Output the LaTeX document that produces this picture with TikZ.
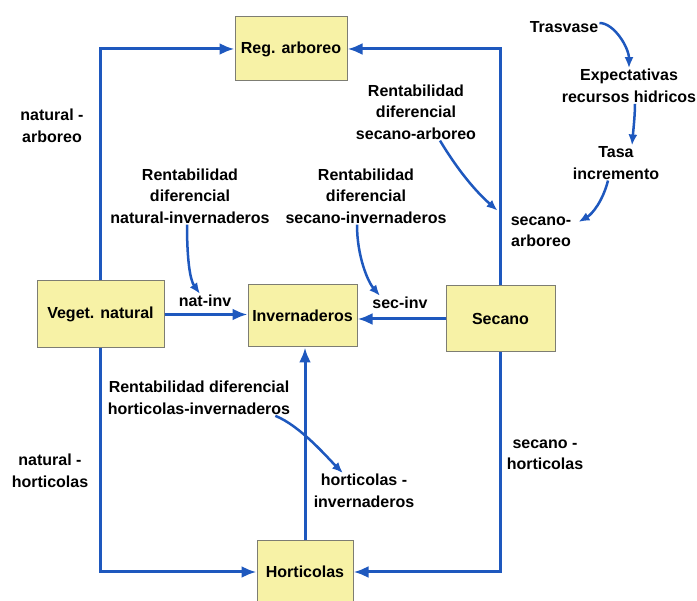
\documentclass[tikz,border=0pt]{standalone}
\usepackage{fontspec}
\setmainfont{Liberation Sans}
\usetikzlibrary{arrows.meta}
\definecolor{boxfill}{RGB}{247,242,166}
\definecolor{boxline}{RGB}{125,125,115}
\definecolor{flowblue}{RGB}{30,88,190}

\begin{document}
\begin{tikzpicture}[x=1pt, y=-1pt,
        every node/.append style={font=\bfseries\fontsize{16}{21.5}\selectfont}]
      \tikzstyle{box} = [draw=boxline, fill=boxfill, line width=1pt]
      \tikzstyle{word} = [align=center, inner sep=1pt]
      \tikzstyle{flow} = [-{Latex[length=15pt,width=12pt]}, draw=flowblue, line width=3pt]
      \tikzstyle{infl} = [-{Latex[length=11pt,width=9pt]}, draw=flowblue, line width=2.5pt]
      \useasboundingbox (0,0) rectangle (697,601);
      % stocks
      \node (reg) [box, minimum width=112pt, minimum height=64pt] at (291,49) {Reg. arboreo};
      \node (veg) [box, minimum width=127pt, minimum height=67pt] at (100.5,314.5) {Veget. natural};
      \node (inv) [box, minimum width=109pt, minimum height=62pt] at (302.5,316) {Invernaderos};
      \node (sec) [box, minimum width=109pt, minimum height=66pt] at (500.5,319) {Secano};
      \node (hort) [box, minimum width=96pt, minimum height=62pt] at (305,572) {Horticolas};
      % flow names
      \node (natarb) [word] at (52,126) {natural -\\arboreo};
      \node (nathort) [word] at (50,471) {natural -\\horticolas};
      \node (sechort) [word] at (545,455) {secano -\\horticolas};
      \node (natinv) [word] at (205,301) {nat-inv};
      \node (secinv) [word] at (400,303) {sec-inv};
      \node (secarb) [word] at (541,232) {secano-\\arboreo};
      \node (hortinv) [word] at (364,491) {horticolas -\\invernaderos};
      % drivers
      \node (rdni) [word] at (190,196) {Rentabilidad\\diferencial\\natural-invernaderos};
      \node (rdsi) [word] at (366,196) {Rentabilidad\\diferencial\\secano-invernaderos};
      \node (rdsa) [word] at (416,112) {Rentabilidad\\diferencial\\secano-arboreo};
      \node (rdhi) [word] at (199,398) {Rentabilidad diferencial\\horticolas-invernaderos};
      \node (trasv) [word] at (564,27) {Trasvase};
      \node (expec) [word] at (629,86) {Expectativas\\recursos hidricos};
      \node (tasa) [word] at (616,163) {Tasa\\incremento};
      % flows between stocks
      \draw[flow] (veg.north) |- (reg.west);
      \draw[flow] (sec.north) |- (reg.east);
      \draw[flow] (veg.east) -- (veg.east -| inv.west);
      \draw[flow] (sec.west) -- (sec.west -| inv.east);
      \draw[flow] (hort.north) -- (hort.north |- inv.south);
      \draw[flow] (veg.south) |- (hort.west);
      \draw[flow] (sec.south) |- (hort.east);
      % influences
      \draw[infl] ([xshift=-3pt]rdni.south) .. controls +(0,35) and +(-10,-14) .. ([xshift=-5pt]natinv.north);
      \draw[infl] ([xshift=-9pt]rdsi.south) .. controls +(0,32) and +(-12,-14) .. ([xshift=-20pt]secinv.north);
      \draw[infl] ([xshift=24pt]rdsa.south) .. controls +(15,25) and +(-25,-22) .. ([xshift=-12pt,yshift=5pt]secarb.north west);
      \draw[infl] ([yshift=4pt]trasv.east) .. controls +(15,0) and +(0,-20) .. (expec.north);
      \draw[infl] ([xshift=6pt]expec.south) .. controls +(0,12) and +(1,-12) .. ([xshift=16pt]tasa.north);
      \draw[infl] ([xshift=-8pt]tasa.south) .. controls +(-5,20) and +(14,-8) .. ([xshift=6pt,yshift=10pt]secarb.east);
      \draw[infl] ([xshift=-16pt]rdhi.south east) .. controls +(25,10) and +(-15,-15) .. ([xshift=-21pt]hortinv.north);
\end{tikzpicture}
\end{document}
